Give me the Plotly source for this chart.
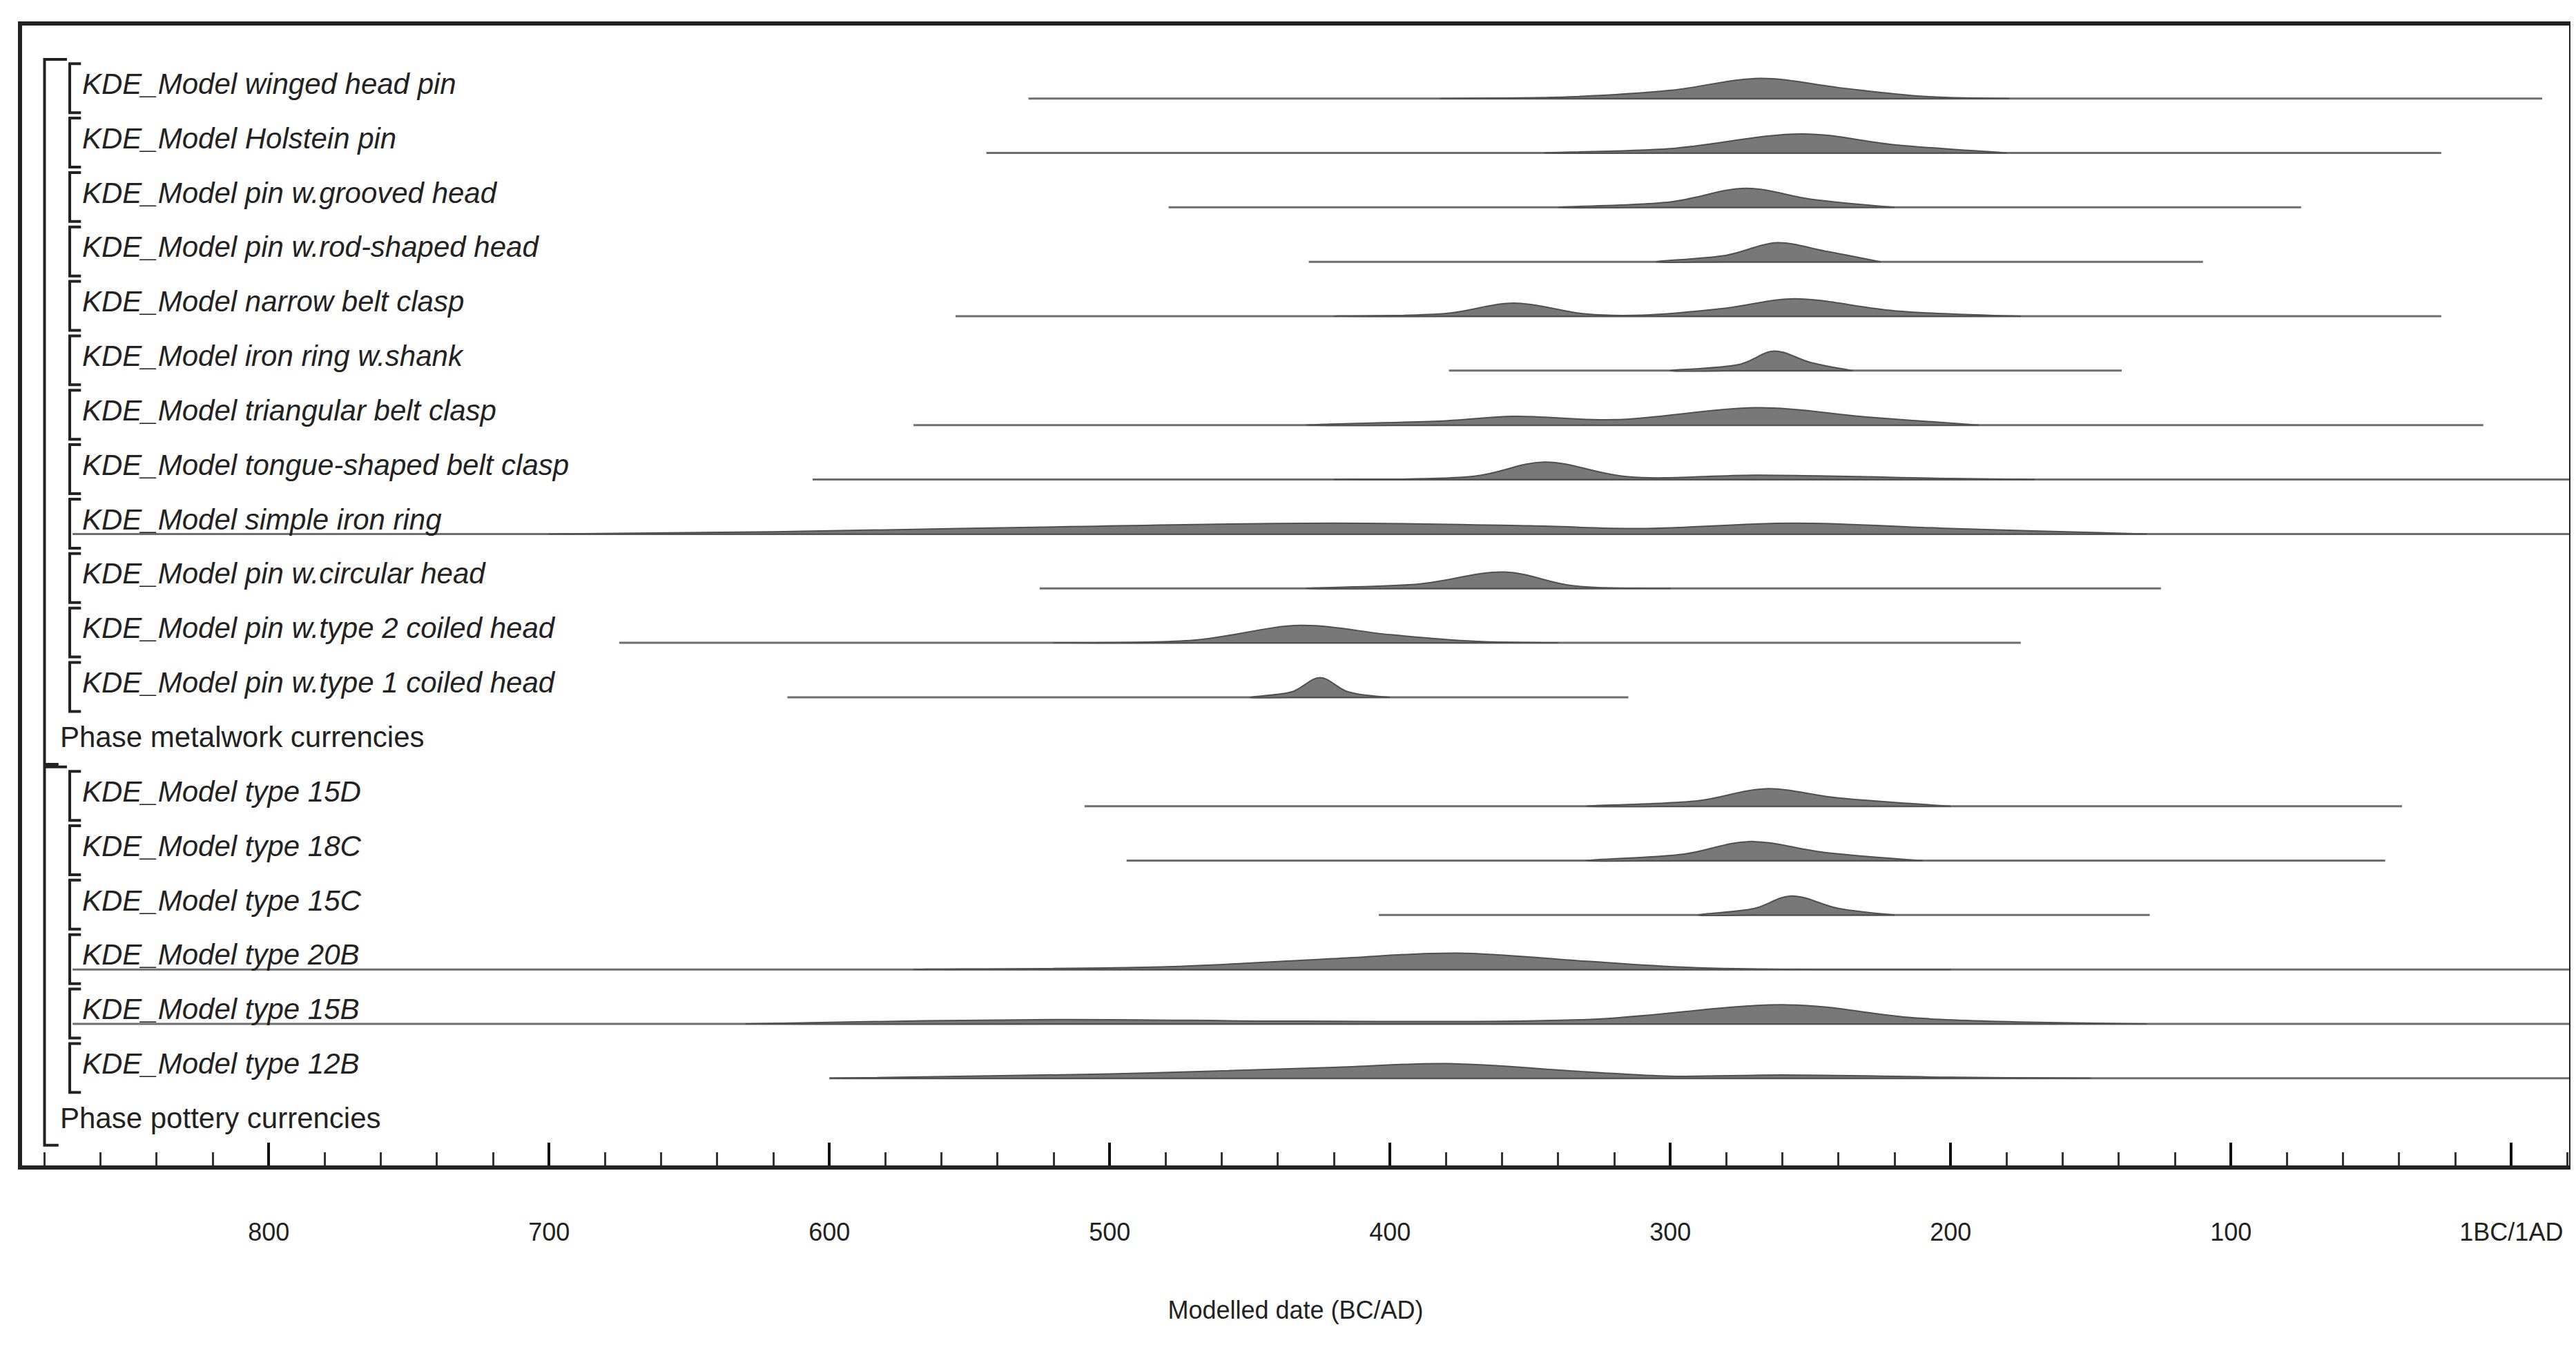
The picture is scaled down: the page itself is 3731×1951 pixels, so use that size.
import plotly.graph_objects as go

# row labels, top to bottom (None rows are phase labels)
labels = [
    "KDE_Model winged head pin", "KDE_Model Holstein pin", "KDE_Model pin w.grooved head",
    "KDE_Model pin w.rod-shaped head", "KDE_Model narrow belt clasp", "KDE_Model iron ring w.shank",
    "KDE_Model triangular belt clasp", "KDE_Model tongue-shaped belt clasp", "KDE_Model simple iron ring",
    "KDE_Model pin w.circular head", "KDE_Model pin w.type 2 coiled head", "KDE_Model pin w.type 1 coiled head",
    "Phase metalwork currencies",
    "KDE_Model type 15D", "KDE_Model type 18C", "KDE_Model type 15C", "KDE_Model type 20B",
    "KDE_Model type 15B", "KDE_Model type 12B",
    "Phase pottery currencies",
]
phase_rows = [12, 19]

# range lines (start, end) in years BC
range_start = [529, 544, 479, 429, 555, 379, 570, 606, 870, 525, 675, 615, None,
               509, 494, 404, 870, 870, 600, None]
range_end = [-11, 25, 75, 110, 25, 139, 10, -21, -21, 125, 175, 315, None,
             39, 45, 129, -21, -21, -21, None]

# density outlines: dates and heights (row units)
dens_x = [
    [382, 336, 300, 268, 240, 210, 179],
    [345, 300, 253, 220, 180],
    [340, 300, 273, 250, 220],
    [305, 280, 262, 245, 225],
    [420, 380, 356, 330, 310, 280, 256, 220, 175],
    [300, 275, 263, 250, 235],
    [430, 380, 356, 320, 268, 230, 190],
    [420, 370, 345, 315, 268, 200, 170],
    [700, 620, 520, 420, 350, 310, 256, 200, 130],
    [430, 390, 359, 335, 300],
    [520, 470, 432, 400, 370, 340],
    [450, 435, 425, 415, 400],
    None,
    [330, 290, 266, 240, 200],
    [330, 295, 272, 245, 210],
    [290, 270, 257, 240, 220],
    [570, 480, 420, 376, 330, 290, 200],
    [630, 520, 430, 330, 258, 210, 130],
    [600, 500, 420, 380, 330, 300, 260, 200, 150],
    None,
]
dens_h = [
    [0, 0.03, 0.15, 0.37, 0.2, 0.04, 0],
    [0, 0.08, 0.35, 0.15, 0],
    [0, 0.1, 0.35, 0.15, 0],
    [0, 0.12, 0.35, 0.2, 0],
    [0, 0.05, 0.24, 0.04, 0.02, 0.15, 0.32, 0.1, 0],
    [0, 0.12, 0.36, 0.15, 0],
    [0, 0.08, 0.16, 0.1, 0.32, 0.15, 0],
    [0, 0.06, 0.32, 0.05, 0.08, 0.02, 0],
    [0, 0.04, 0.13, 0.2, 0.15, 0.1, 0.2, 0.1, 0],
    [0, 0.08, 0.3, 0.05, 0],
    [0, 0.05, 0.32, 0.15, 0.03, 0],
    [0, 0.1, 0.36, 0.1, 0],
    None,
    [0, 0.1, 0.32, 0.15, 0],
    [0, 0.12, 0.35, 0.15, 0],
    [0, 0.12, 0.35, 0.12, 0],
    [0, 0.05, 0.2, 0.3, 0.15, 0.03, 0],
    [0, 0.08, 0.05, 0.08, 0.35, 0.1, 0],
    [0, 0.08, 0.2, 0.27, 0.12, 0.04, 0.06, 0.02, 0],
    None,
]

tick_vals = [800, 700, 600, 500, 400, 300, 200, 100, 0]
tick_text = ["800", "700", "600", "500", "400", "300", "200", "100", "1BC/1AD"]

X_LEFT, X_RIGHT = 888, -20.6
BASE = 0.22
FONT = "Liberation Sans, Arial"

fig = go.Figure()
shapes = []
for i, lab in enumerate(labels):
    base = i + BASE
    if range_start[i] is not None:
        fig.add_trace(go.Scatter(x=[range_start[i], range_end[i]], y=[base, base], mode="lines",
                                 line=dict(color="rgb(110,110,110)", width=3), hoverinfo="skip"))
    if dens_x[i] is not None:
        xs = dens_x[i] + dens_x[i][::-1]
        ys = [base - h for h in dens_h[i]] + [base] * len(dens_x[i])
        fig.add_trace(go.Scatter(x=xs, y=ys, mode="lines", fill="toself", line_shape="spline",
                                 fillcolor="rgb(120,120,120)", line=dict(color="rgb(80,80,80)", width=2),
                                 hoverinfo="skip"))
    is_phase = i in phase_rows
    fig.add_annotation(x=(875 if is_phase else 867), y=i - 0.05, text=lab if is_phase else "<i>%s</i>" % lab,
                       xanchor="left", yanchor="middle", showarrow=False,
                       font=dict(family=FONT, size=42, color="#222"))
    if not is_phase:
        # inner bracket
        shapes.append(dict(type="path", xref="x", yref="y",
                           path="M 867,%f L 871,%f L 871,%f L 867,%f" % (i - 0.42, i - 0.42, i + 0.48, i + 0.48),
                           line=dict(color="#222", width=4)))

# outer phase brackets
for top, bottom in [(0, 12), (13, 19)]:
    shapes.append(dict(type="path", xref="x", yref="y",
                       path="M 872,%f L 880,%f L 880,%f L 875,%f" % (top - 0.5, top - 0.5, bottom + 0.45, bottom + 0.45),
                       line=dict(color="#222", width=4)))

fig.update_layout(
    width=3731, height=1951, showlegend=False,
    paper_bgcolor="white", plot_bgcolor="white",
    margin=dict(l=24, r=13, t=29, b=271),
    shapes=shapes,
    xaxis=dict(range=[X_LEFT, X_RIGHT], tickvals=tick_vals, ticktext=tick_text,
               ticks="inside", ticklen=33, tickwidth=4, tickcolor="#111", ticklabelstandoff=60,
               minor=dict(dtick=20, tick0=0, ticks="inside", ticklen=19, tickwidth=3, tickcolor="#333"),
               showline=True, linecolor="#222", linewidth=6, mirror=True, showgrid=False, zeroline=False,
               tickfont=dict(family=FONT, size=36, color="#222"),
               title=dict(text="Modelled date (BC/AD)", standoff=83,
                          font=dict(family=FONT, size=36, color="#222"))),
    yaxis=dict(range=[19.82, -1.12], showticklabels=False, ticks="", showgrid=False, zeroline=False,
               showline=True, linecolor="#222", linewidth=6, mirror=True),
)

fig.write_html("out.html")
